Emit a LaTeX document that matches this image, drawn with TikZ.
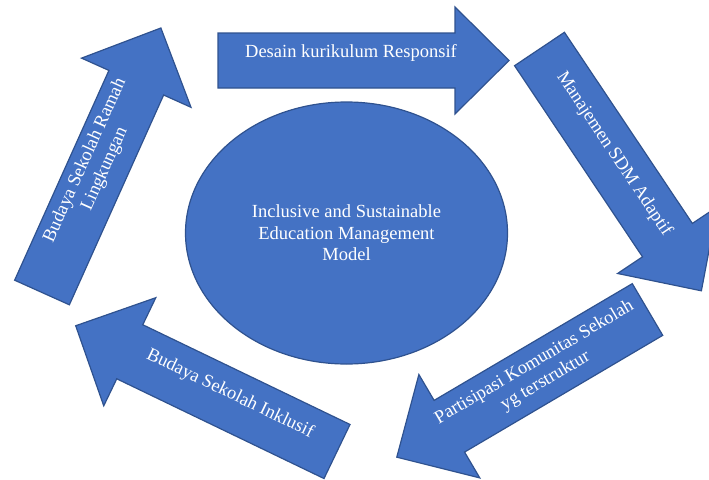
\documentclass[tikz,border=0pt]{standalone}
\usepackage{fontspec}
\setmainfont{Liberation Serif}
\usetikzlibrary{shapes.geometric}
\definecolor{blockblue}{HTML}{4472C4}
\definecolor{edgeblue}{HTML}{2F528F}

\tikzset{
  blk/.style={fill=blockblue, draw=edgeblue, line width=1.2pt, line join=miter},
  lbl/.style={text=white, align=center, font=\fontsize{18.5}{21.5}\selectfont}
}

\begin{document}
\begin{tikzpicture}[x=1pt, y=-1pt]
        \useasboundingbox (0,0) rectangle (709,479);
        % the five block arrows: tail x / tail y / angle / shaft / half shaft / half head / head
        \foreach \x/\y/\a/\L/\w/\h/\k in {218/60.5/0/237/27.5/53.5/54,
                                         539.5/49/-56.2/230/30/60/61,
                                         647.5/309.5/210.5/230/30/60/61,
                                         337/451.5/154.3/230/30/60/60,
                                         42/292.5/65.8/230/30/60/60} {
            \draw[blk, shift={(\x,\y)}, rotate=\a] (0,\w) -- (\L,\w) -- (\L,\h)
                -- (\L+\k,0) -- (\L,-\h) -- (\L,-\w) -- (0,-\w) -- cycle;
        }
        \node[blk, lbl, ellipse, minimum width=322, minimum height=262] (model) at (346.5,233)
            {Inclusive and Sustainable\\Education Management\\Model};
        \node[lbl] (desain) at (351,53) {Desain kurikulum Responsif};
        \node[lbl, rotate=-56.2] (sdm) at (614,154) {Manajemen SDM Adaptif};
        \node[lbl, rotate=30.5] (partisipasi) at (540,372) {Partisipasi Komunitas Sekolah\\yg terstruktur};
        \node[lbl, rotate=-25.7] (inklusif) at (230,394) {Budaya Sekolah Inklusif};
        \node[lbl, rotate=65.8] (ramah) at (95,165) {Budaya Sekolah Ramah\\Lingkungan};
    \end{tikzpicture}
\end{document}
